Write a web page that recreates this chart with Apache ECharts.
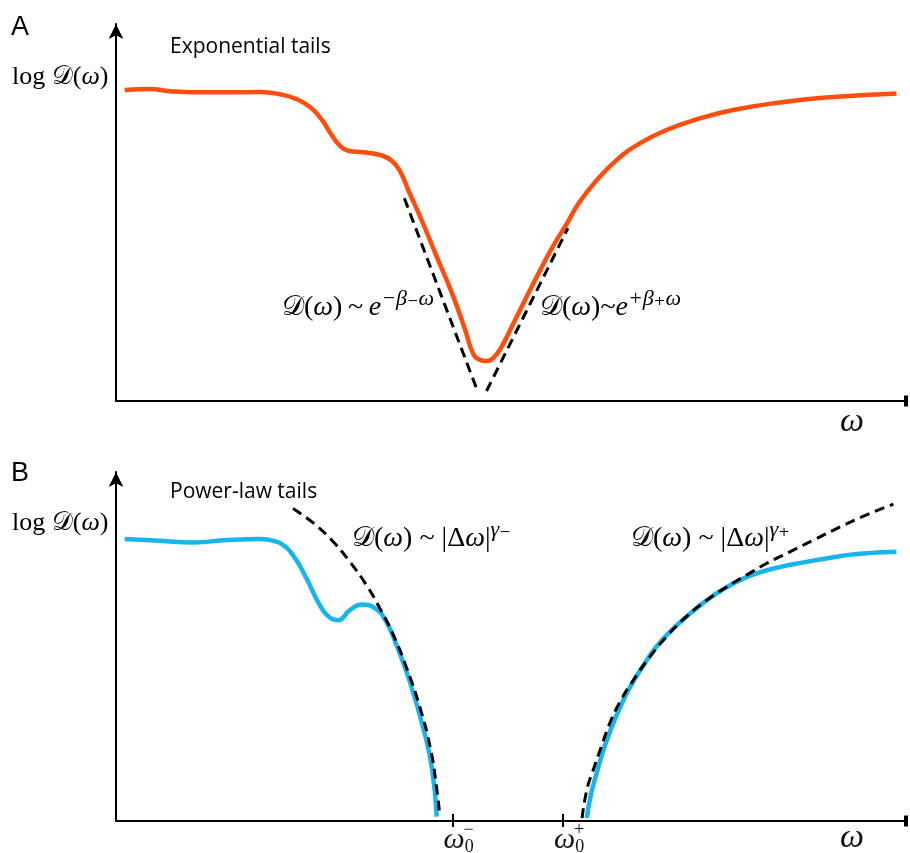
<!DOCTYPE html>
<html>
<head>
<meta charset="utf-8">
<script src="https://cdn.jsdelivr.net/npm/echarts@6/dist/echarts.min.js"></script>
<style>
  html, body { margin: 0; padding: 0; background: #fff; }
  #main { width: 910px; height: 853px; }
</style>
</head>
<body>
<div id="main"></div>
<script>
// panel A: exponential tails (omega 0..10, log D 0..10)
var expCurveX = [0.11, 0.43, 0.68, 0.98, 1.40, 1.82, 2.08, 2.29, 2.46, 2.60, 2.73, 2.84, 2.94, 3.13, 3.34, 3.49, 3.60, 3.70, 3.85, 4.06, 4.27, 4.42, 4.52, 4.61, 4.69, 4.78, 4.88, 5.03, 5.20, 5.37, 5.54, 5.71, 5.87, 6.09, 6.34, 6.63, 6.97, 7.39, 7.81, 8.45, 9.08, 9.88];
var expCurveY = [8.10, 8.13, 8.07, 8.04, 8.04, 8.05, 7.99, 7.86, 7.65, 7.34, 6.93, 6.64, 6.52, 6.48, 6.41, 6.26, 5.97, 5.49, 4.80, 3.76, 2.72, 1.85, 1.24, 1.07, 1.04, 1.13, 1.41, 2.02, 2.72, 3.41, 4.06, 4.63, 5.19, 5.76, 6.28, 6.71, 7.06, 7.36, 7.58, 7.79, 7.92, 8.01];
var expLeftTailX = [3.65, 4.58];
var expLeftTailY = [5.28, 0.24];
var expRightTailX = [4.69, 5.72];
var expRightTailY = [0.26, 4.50];

// panel B: power-law tails
var powLeftX = [0.11, 0.56, 0.98, 1.40, 1.82, 1.96, 2.08, 2.24, 2.41, 2.58, 2.71, 2.81, 2.96, 3.11, 3.28, 3.41, 3.55, 3.72, 3.89, 4.00, 4.06];
var powLeftY = [7.88, 7.83, 7.78, 7.85, 7.88, 7.84, 7.76, 7.43, 6.78, 6.03, 5.68, 5.61, 5.89, 6.05, 5.94, 5.61, 4.92, 3.89, 2.59, 1.47, 0.12];
var powRightX = [5.96, 6.01, 6.09, 6.17, 6.26, 6.38, 6.51, 6.68, 6.84, 7.05, 7.27, 7.48, 7.69, 7.90, 8.11, 8.41, 8.74, 9.08, 9.38, 9.88];
var powRightY = [0.08, 0.72, 1.38, 1.98, 2.54, 3.17, 3.75, 4.36, 4.87, 5.37, 5.80, 6.17, 6.48, 6.73, 6.92, 7.10, 7.24, 7.37, 7.46, 7.52];
var powLeftTailX = [2.24, 2.50, 2.75, 2.96, 3.17, 3.34, 3.51, 3.68, 3.85, 3.98, 4.06, 4.10];
var powLeftTailY = [8.73, 8.32, 7.80, 7.24, 6.59, 5.94, 5.20, 4.27, 3.15, 2.03, 0.91, 0.12];
var powRightTailX = [5.90, 5.96, 6.04, 6.15, 6.25, 6.38, 6.55, 6.76, 6.97, 7.22, 7.48, 7.73, 7.98, 8.24, 8.53, 8.83, 9.17, 9.50, 9.84];
var powRightTailY = [0.08, 0.87, 1.42, 2.12, 2.73, 3.33, 3.94, 4.59, 5.15, 5.71, 6.17, 6.54, 6.87, 7.20, 7.52, 7.85, 8.22, 8.55, 8.85];

// omega_0 tick positions and their signs
var edgeTicks = [4.26, 5.66];
var edgeSigns = ['−', '+'];

var ORANGE = '#ff4d0d';
var BLUE = '#17b5ee';
var SERIF = "'Liberation Serif', 'DejaVu Serif', serif";
var SANS = "'Open Sans', 'Liberation Sans', sans-serif";

function pairs(xs, ys) {
  return xs.map(function (x, i) { return [x, ys[i]]; });
}

function curve(name, xs, ys, color, axis) {
  return {
    name: name, type: 'line', xAxisIndex: axis, yAxisIndex: axis,
    data: pairs(xs, ys), smooth: 0.5, showSymbol: false, silent: true,
    lineStyle: { color: color, width: 4.5 }
  };
}

function dashed(name, xs, ys, axis) {
  return {
    name: name, type: 'line', xAxisIndex: axis, yAxisIndex: axis,
    data: pairs(xs, ys), smooth: xs.length > 2 ? 0.5 : false, showSymbol: false, silent: true,
    lineStyle: { color: '#000', width: 3, type: [10, 6] }
  };
}

var axisLineX = {
  show: true, onZero: true, symbol: ['none', 'rect'], symbolSize: [11, 4],
  lineStyle: { color: '#000', width: 2 }
};
var axisLineY = {
  show: true, symbol: ['none', 'arrow'], symbolSize: [11, 15],
  lineStyle: { color: '#000', width: 2 }
};

// rich styles for formula labels
var formulaRich = {
  m: { fontFamily: SERIF, fontSize: 28, lineHeight: 34, verticalAlign: 'bottom', color: '#111' },
  i: { fontFamily: SERIF, fontSize: 28, fontStyle: 'italic', lineHeight: 34, verticalAlign: 'bottom', color: '#111' },
  s: { fontFamily: SERIF, fontSize: 22, fontStyle: 'italic', verticalAlign: 'top', color: '#111' }
};

function formula(text, x, y) {
  return {
    type: 'text', x: x, y: y, silent: true,
    style: { text: text, rich: formulaRich, verticalAlign: 'middle' }
  };
}

function plainText(text, x, y, font) {
  return {
    type: 'text', x: x, y: y, silent: true,
    style: { text: text, font: font, fill: '#000', verticalAlign: 'middle' }
  };
}

var logLabel = '{r|log }{r|𝒟(}{i|ω}{r|)}';
var logRich = {
  r: { fontFamily: SERIF, fontSize: 26, color: '#111' },
  i: { fontFamily: SERIF, fontSize: 26, fontStyle: 'italic', color: '#111' }
};

var chart = echarts.init(document.getElementById('main'), null, { renderer: 'canvas' });

var option = {
  animation: false,
  backgroundColor: '#fff',
  grid: [
    { left: 116, top: 24, width: 790, height: 377, containLabel: false, outerBoundsMode: 'none' },
    { left: 116, top: 472, width: 790, height: 349, containLabel: false, outerBoundsMode: 'none' }
  ],
  xAxis: [
    {
      gridIndex: 0, type: 'value', min: 0, max: 10,
      axisLine: axisLineX, axisTick: { show: false }, axisLabel: { show: false }, splitLine: { show: false }
    },
    {
      gridIndex: 1, type: 'value', min: 0, max: 10, position: 'bottom',
      axisLine: axisLineX,
      axisTick: { show: true, customValues: edgeTicks, length: 6, lineStyle: { color: '#000', width: 2 } },
      axisLabel: {
        show: true, customValues: edgeTicks, margin: 0,
        formatter: function (v) {
          var k = edgeTicks.indexOf(v);
          return '{sp|' + edgeSigns[k] + '}\n{w|ω}{sb|0}';
        },
        rich: {
          sp: { fontFamily: SERIF, fontSize: 18, lineHeight: 4, padding: [14, 0, 0, 0], align: 'right', color: '#111' },
          w: { fontFamily: SERIF, fontSize: 30, fontStyle: 'italic', lineHeight: 30, padding: [0, 0, 0, 12], color: '#111' },
          sb: { fontFamily: SERIF, fontSize: 18, lineHeight: 30, padding: [14, 0, 0, 0], color: '#111' }
        }
      },
      splitLine: { show: false }
    },
    {
      gridIndex: 1, type: 'value', min: 0, max: 10, position: 'bottom',
      axisLine: { show: false },
      axisTick: { show: true, inside: true, customValues: edgeTicks, length: 7, lineStyle: { color: '#000', width: 2 } },
      axisLabel: { show: false }, splitLine: { show: false }
    }
  ],
  yAxis: [
    {
      gridIndex: 0, type: 'value', min: 0, max: 9.82,
      axisLine: axisLineY, axisTick: { show: false }, axisLabel: { show: false }, splitLine: { show: false }
    },
    {
      gridIndex: 1, type: 'value', min: 0, max: 9.75,
      axisLine: axisLineY, axisTick: { show: false }, axisLabel: { show: false }, splitLine: { show: false }
    },
    {
      gridIndex: 1, type: 'value', min: 0, max: 9.75, show: false
    }
  ],
  series: [
    curve('exp', expCurveX, expCurveY, ORANGE, 0),
    dashed('exp-left', expLeftTailX, expLeftTailY, 0),
    dashed('exp-right', expRightTailX, expRightTailY, 0),
    curve('pow-left', powLeftX, powLeftY, BLUE, 1),
    curve('pow-right', powRightX, powRightY, BLUE, 1),
    // dashed fits drawn above the blue curves, as in the original
    dashed('pow-left-tail', powLeftTailX, powLeftTailY, 1),
    dashed('pow-right-tail', powRightTailX, powRightTailY, 1)
  ],
  graphic: [
    plainText('A', 11, 28, "27px 'Liberation Sans', sans-serif"),
    plainText('B', 11, 474, "27px 'Liberation Sans', sans-serif"),
    plainText('Exponential tails', 170, 47, '21px ' + SANS),
    plainText('Power-law tails', 170, 492, '21px ' + SANS),
    { type: 'text', x: 12, y: 77, silent: true, style: { text: logLabel, rich: logRich, verticalAlign: 'middle' } },
    { type: 'text', x: 12, y: 523, silent: true, style: { text: logLabel, rich: logRich, verticalAlign: 'middle' } },
    { type: 'text', x: 852, y: 422, silent: true, style: { text: 'ω', font: 'italic 34px ' + SERIF, fill: '#111', align: 'center', verticalAlign: 'middle' } },
    { type: 'text', x: 852, y: 838, silent: true, style: { text: 'ω', font: 'italic 34px ' + SERIF, fill: '#111', align: 'center', verticalAlign: 'middle' } },
    formula('{m|𝒟(}{i|ω}{m|)\u2009~\u2009}{i|e}{s|−β₋ω}', 282, 305),
    formula('{m|𝒟(}{i|ω}{m|)~}{i|e}{s|+β₊ω}', 540, 305),
    formula('{m|𝒟(}{i|ω}{m|) ~ |Δ}{i|ω}{m||}{s|γ₋}', 352, 536),
    formula('{m|𝒟(}{i|ω}{m|) ~ |Δ}{i|ω}{m||}{s|γ₊}', 631, 536)
  ]
};

chart.setOption(option);
</script>
</body>
</html>
